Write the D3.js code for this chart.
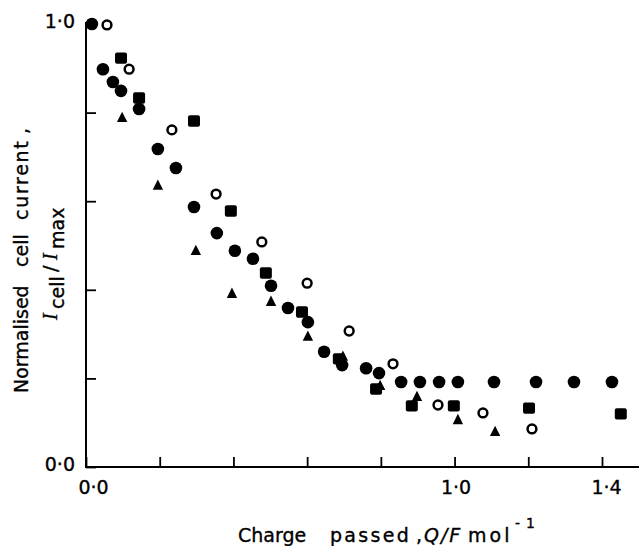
<!DOCTYPE html>
<html>
<head>
<meta charset="utf-8">
<script src="https://cdn.jsdelivr.net/npm/d3@7"></script>
<style>
  html, body { margin: 0; padding: 0; background: #fff; }
  svg { display: block; }
  text { font-family: "DejaVu Sans", sans-serif; fill: #000; stroke: #000; stroke-width: 0.35px; }
</style>
</head>
<body>
<svg id="chart" width="639" height="546"></svg>
<script>
// ---- Data ----
const filledCircleX = [0.016,0.046,0.073,0.095,0.144,0.195,0.244,0.293,0.355,0.404,0.453,0.502,0.548,0.602,0.646,0.695,0.760,0.795,0.855,0.906,0.958,1.009,1.107,1.221,1.324,1.427];
const filledCircleY = [1.000,0.898,0.869,0.849,0.808,0.718,0.675,0.587,0.528,0.488,0.470,0.409,0.359,0.327,0.260,0.230,0.223,0.212,0.192,0.192,0.192,0.192,0.192,0.192,0.192,0.192];

const openCircleX = [0.057,0.117,0.233,0.353,0.477,0.600,0.714,0.833,0.955,1.077,1.210];
const openCircleY = [0.998,0.898,0.761,0.616,0.508,0.415,0.307,0.233,0.140,0.122,0.086];

const squareX = [0.095,0.144,0.293,0.393,0.488,0.586,0.686,0.787,0.884,0.998,1.202,1.451];
const squareY = [0.923,0.833,0.781,0.578,0.438,0.350,0.244,0.176,0.138,0.138,0.133,0.120];

const triangleX = [0.098,0.195,0.298,0.396,0.502,0.602,0.697,0.798,0.898,1.009,1.110];
const triangleY = [0.790,0.637,0.490,0.393,0.375,0.296,0.251,0.185,0.160,0.108,0.081];

const xTicks = [0,0.2,0.4,0.6,0.8,1.0,1.2,1.4];
const xTickLabels = {"0":"0·0","1":"1·0","1.4":"1·4"};
const yTicks = [0,0.2,0.4,0.6,0.8,1.0];
const yTickLabels = {"0":"0·0","1":"1·0"};

// ---- Scales ----
const svg = d3.select("#chart");
const x = d3.scaleLinear().domain([0, 1.4]).range([86, 602]);
const y = d3.scaleLinear().domain([0, 1]).range([467, 24]);

// ---- Axes ----
const xAxis = d3.axisBottom(x)
  .tickValues(xTicks)
  .tickSizeInner(-10).tickSizeOuter(0).tickPadding(14)
  .tickFormat(d => xTickLabels[String(+d.toFixed(2))] || "");
const gx = svg.append("g").attr("transform", `translate(0,${y(0)})`).call(xAxis);
gx.select(".domain").remove();
gx.selectAll(".tick line").attr("stroke", "#000").attr("stroke-width", 1.8);
gx.selectAll(".tick text").attr("font-size", 19).attr("font-family", "DejaVu Sans")
  .attr("dx", d => d === 0 ? 7 : (d === 1.4 ? 4 : 1));
svg.append("line")
  .attr("x1", x(0) - 1).attr("x2", 639)
  .attr("y1", y(0)).attr("y2", y(0))
  .attr("stroke", "#000").attr("stroke-width", 2);

const yAxis = d3.axisLeft(y)
  .tickValues(yTicks)
  .tickSizeInner(-10).tickSizeOuter(0).tickPadding(11)
  .tickFormat(d => yTickLabels[String(+d.toFixed(2))] || "");
const gy = svg.append("g").attr("transform", `translate(${x(0)},0)`).call(yAxis);
gy.select(".domain").remove();
gy.selectAll(".tick line").attr("stroke", "#000").attr("stroke-width", 1.8);
gy.selectAll(".tick text").attr("font-size", 19).attr("font-family", "DejaVu Sans").attr("dy", "0.2em");
svg.append("line")
  .attr("x1", x(0)).attr("x2", x(0))
  .attr("y1", y(1) - 2).attr("y2", y(0) + 1)
  .attr("stroke", "#000").attr("stroke-width", 2);

// ---- Markers ----
const zip = (a, b) => a.map((v, i) => [v, b[i]]);

svg.append("g").selectAll("circle")
  .data(zip(filledCircleX, filledCircleY)).join("circle")
  .attr("cx", d => x(d[0])).attr("cy", d => y(d[1])).attr("r", 6.3)
  .attr("fill", "#000");

svg.append("g").selectAll("circle")
  .data(zip(openCircleX, openCircleY)).join("circle")
  .attr("cx", d => x(d[0])).attr("cy", d => y(d[1])).attr("r", 4.4)
  .attr("fill", "#fff").attr("stroke", "#000").attr("stroke-width", 2.5);

svg.append("g").selectAll("rect")
  .data(zip(squareX, squareY)).join("rect")
  .attr("x", d => x(d[0]) - 6).attr("y", d => y(d[1]) - 5.7)
  .attr("width", 12).attr("height", 11.4).attr("rx", 2)
  .attr("fill", "#000");

svg.append("g").selectAll("path")
  .data(zip(triangleX, triangleY)).join("path")
  .attr("d", d => {
    const cx = x(d[0]), cy = y(d[1]);
    return `M${cx},${cy - 5.3}L${cx + 5.2},${cy + 5}L${cx - 5.2},${cy + 5}Z`;
  })
  .attr("fill", "#000");

// ---- Axis titles ----
const xt = svg.append("text").attr("y", 542).attr("font-size", 19);
xt.append("tspan").attr("x", 238).text("Charge");
xt.append("tspan").attr("x", 330).attr("letter-spacing", 2.3).text("passed");
xt.append("tspan").attr("x", 416).text(",");
xt.append("tspan").attr("x", 424).attr("letter-spacing", 2).attr("font-style", "italic").text("Q/F");
xt.append("tspan").attr("x", 468).attr("letter-spacing", 3).text("mol");
xt.append("tspan").attr("x", 515).attr("y", 528).attr("font-size", 14).text("-");
xt.append("tspan").attr("x", 526).attr("y", 528).attr("font-size", 14).text("1");

const yt = svg.append("text").attr("transform", "translate(28,0) rotate(-90)").attr("font-size", 19);
yt.append("tspan").attr("x", -393).text("Normalised");
yt.append("tspan").attr("x", -267).text("cell");
yt.append("tspan").attr("x", -220).attr("letter-spacing", 1.7).text("current");
yt.append("tspan").attr("x", -134).text(",");

const yt2 = svg.append("text").attr("transform", "translate(57,0) rotate(-90)").attr("font-size", 19);
yt2.append("tspan").attr("x", -320).attr("font-family", "Liberation Serif").attr("font-style", "italic").attr("font-size", 20).text("I");
yt2.append("tspan").attr("x", -309).attr("dy", 7).text("cell");
yt2.append("tspan").attr("x", -272).attr("dy", -7).text("/");
yt2.append("tspan").attr("x", -260).attr("font-family", "Liberation Serif").attr("font-style", "italic").attr("font-size", 20).text("I");
yt2.append("tspan").attr("x", -249).attr("dy", 7).text("max");
</script>
</body>
</html>
